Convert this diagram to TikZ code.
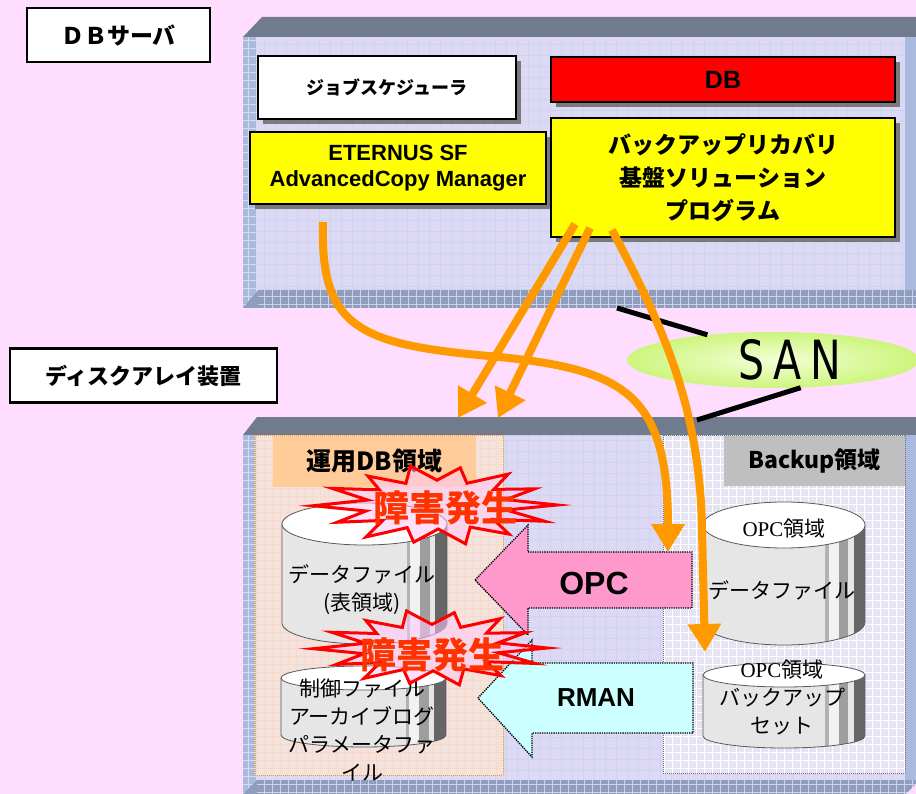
\documentclass[tikz,border=0pt]{standalone}
\usepackage{fontspec}
\setmainfont{Noto Sans CJK JP}
\newfontfamily\arialf{Liberation Sans}
\newfontfamily\timesf{Liberation Serif}
\newfontfamily\sanf{DejaVu Sans}
\usetikzlibrary{arrows.meta,shapes.geometric,shadows,positioning}
\definecolor{bgpink}{RGB}{255,221,255}
\definecolor{faceLav}{RGB}{221,217,245}
\definecolor{gridLav}{RGB}{204,212,240}
\definecolor{bevelTop}{RGB}{112,123,141}
\definecolor{bevelSide}{RGB}{170,186,222}
\definecolor{bevelBot}{RGB}{143,157,190}
\definecolor{acOrange}{RGB}{255,153,0}
\definecolor{boxYellow}{RGB}{255,255,0}
\definecolor{peach}{RGB}{255,204,153}
\definecolor{opArea}{RGB}{244,226,222}
\definecolor{opGrid}{RGB}{250,218,196}
\definecolor{bkArea}{RGB}{230,228,243}
\definecolor{opcPink}{RGB}{255,153,204}
\definecolor{rmanCyan}{RGB}{204,255,255}
\definecolor{alertRed}{RGB}{255,51,0}
\definecolor{sanIn}{RGB}{242,255,215}
\definecolor{sanOut}{RGB}{205,245,125}
\definecolor{diskGray}{RGB}{230,230,230}

% disk drum: left x, right x, top y, bottom y, y radius
\newcommand{\dbdisk}[5]{%
  \pgfmathsetmacro{\dkw}{#2-#1}
  \pgfmathsetmacro{\dkr}{\dkw/2}
  \pgfmathsetmacro{\dkc}{#1+\dkr}
  \begin{scope}
    \clip (#1,#3) -- (#1,#4) arc[start angle=180, end angle=360, x radius=\dkr pt, y radius=#5 pt] -- (#2,#3) -- cycle;
    \fill[diskGray] (#1,#3-1) rectangle (#2,#4+#5+1);
    \fill[black!30] ({#1+0.756*\dkw},#3) rectangle ({#1+0.776*\dkw},#4+#5+1);
    \fill[black!5] ({#1+0.776*\dkw},#3) rectangle ({#1+0.837*\dkw},#4+#5+1);
    \fill[black!38] ({#1+0.837*\dkw},#3) rectangle ({#1+0.898*\dkw},#4+#5+1);
    \fill[black!60] ({#1+0.929*\dkw},#3) rectangle (#2,#4+#5+1);
  \end{scope}
  \draw[diskline] (#1,#3) -- (#1,#4) arc[start angle=180, end angle=360, x radius=\dkr pt, y radius=#5 pt] -- (#2,#3);
  \draw[diskline, fill=white] (\dkc,#3) ellipse[x radius=\dkr pt, y radius=#5 pt];
}

% fault burst around a point
\newcommand{\burst}[4]{%
  \begin{scope}[shift={(#1,#2)}, x=#3pt, y=#4pt]
    \draw[burstline] (0:1.02) \foreach \a/\r in {13/0.6, 26/0.92, 39/0.62, 52/0.98, 65/0.6, 78/0.95,
      90/0.62, 103/1.0, 116/0.6, 129/0.93, 142/0.62, 155/0.98, 168/0.6, 181/1.05, 194/0.62,
      207/0.95, 220/0.6, 233/1.0, 246/0.62, 258/0.95, 271/0.6, 284/1.0, 297/0.62, 310/0.95,
      323/0.6, 336/1.0, 348/0.6} { -- (\a:\r) } -- cycle;
  \end{scope}
}

\begin{document}
\begin{tikzpicture}[x=1pt,y=-1pt,
  box/.style={draw=black, line width=2.4pt, inner sep=0pt, align=center},
  shadowbox/.style={box, drop shadow={shadow xshift=5pt, shadow yshift=-5pt, fill=black!52, opacity=1}},
  flow/.style={draw=acOrange, line width=8pt, -{Triangle[length=28pt,width=32pt]}},
  sanlink/.style={draw=black, line width=5pt},
  diskline/.style={draw=black!65, line width=0.8pt},
  disktext/.style={font=\fontsize{21pt}{28pt}\selectfont, align=center, inner sep=0pt},
  blockarrow/.style={draw=black, line width=1.3pt, densely dotted},
  burstline/.style={draw=red, line width=3pt, line join=miter, fill={rgb,255:red,255;green,200;blue,250}, fill opacity=0.55},
  alert/.style={font=\bfseries\fontsize{36pt}{40pt}\selectfont, text=alertRed, inner sep=0pt}]
\useasboundingbox (0,0) rectangle (916,794);
\fill[bgpink] (0,0) rectangle (916,794);
%
% server housing
\fill[faceLav] (257,37) rectangle (905,290);
\draw[gridLav, line width=0.6pt, step=11pt] (257,37) grid (905,290);
\fill[bevelTop] (243,37) -- (262,17) -- (916,17) -- (916,37) -- cycle;
\fill[bevelSide] (243,37) rectangle (257,308);
\draw[white!50!bevelSide, line width=0.5pt, step=8pt] (243,37) grid (257,308);
\fill[bevelSide] (905,37) rectangle (916,290);
\fill[bevelBot] (243,308) -- (258,290) -- (916,290) -- (916,308) -- cycle;
\draw[white!55!bevelBot, line width=0.5pt, step=8pt] (258,290) grid (916,308);
%
% disk array housing
\fill[faceLav] (257,435) rectangle (905,780);
\draw[gridLav, line width=0.6pt, step=11pt] (257,435) grid (905,780);
\fill[bevelTop] (243,435) -- (257,417) -- (916,417) -- (916,435) -- cycle;
\fill[bevelSide] (243,435) rectangle (257,794);
\draw[white!50!bevelSide, line width=0.5pt, step=8pt] (243,435) grid (257,794);
\fill[bevelSide] (905,435) rectangle (916,780);
\fill[bevelBot] (243,794) -- (257,780) -- (916,780) -- (916,794) -- cycle;
\draw[white!55!bevelBot, line width=0.5pt, step=8pt] (257,780) grid (916,794);
\fill[bgpink] (906,794) -- (916,784) -- (916,794) -- cycle;
%
% work area and backup area
\fill[opArea] (255,435) rectangle (503,775);
\draw[opGrid, line width=0.6pt, step=8pt] (255,435) grid (503,775);
\draw[acOrange, line width=1pt, densely dotted] (255,435) rectangle (503,775);
\fill[bkArea] (663,435) rectangle (905,773);
\draw[white, line width=0.6pt, step=8pt] (663,435) grid (905,773);
\draw[black!55, line width=1pt, densely dotted] (663,435) rectangle (905,773);
\node[fill=peach, minimum width=203pt, minimum height=51pt, inner sep=0pt,
  font=\bfseries\fontsize{25pt}{28pt}\selectfont] (oplabel) at (374.5,461.5) {運用DB領域};
\node[fill=black!25, minimum width=181pt, minimum height=50pt, inner sep=0pt,
  font=\bfseries\fontsize{23pt}{28pt}\selectfont] (bklabel) at (814.5,461) {Backup領域};
%
% titles
\node[box, fill=white, minimum width=183pt, minimum height=54pt,
  font=\bfseries\fontsize{23pt}{26pt}\selectfont] (srvlabel) at (118.5,35) {ＤＢサーバ};
\node[box, fill=white, minimum width=267pt, minimum height=54pt,
  font=\bfseries\fontsize{22pt}{24pt}\selectfont] (arylabel) at (143.5,375.5) {ディスクアレイ装置};
%
% server software
\node[shadowbox, fill=white, minimum width=258pt, minimum height=63pt,
  font=\bfseries\fontsize{18pt}{22pt}\selectfont] (jobs) at (387,87.5) {ジョブスケジューラ};
\node[shadowbox, fill=red, minimum width=344pt, minimum height=45pt,
  font=\arialf\bfseries\fontsize{25pt}{28pt}\selectfont] (db) at (723,79.5) {DB};
\node[shadowbox, fill=boxYellow, minimum width=296pt, minimum height=72pt,
  font=\arialf\bfseries\fontsize{22pt}{26pt}\selectfont] (acm) at (398,168) {ETERNUS SF\\ AdvancedCopy Manager};
\node[shadowbox, fill=boxYellow, minimum width=344pt, minimum height=119pt,
  font=\bfseries\fontsize{23pt}{33pt}\selectfont] (brp) at (723,177.5) {バックアップリカバリ\\基盤ソリューション\\プログラム};
%
% SAN
\coordinate (srvport) at (617,308);
\coordinate (aryport) at (697,420);
\node[ellipse, shading=radial, inner color=sanIn, outer color=sanOut,
  minimum width=292pt, minimum height=56pt] (san) at (773,360) {};
\draw[sanlink] (srvport) -- (san.159);
\draw[sanlink] (san.-45) -- (aryport);
\node[font=\sanf\fontsize{54pt}{56pt}\selectfont, inner sep=0pt] (santext) at (790,360)
  {\scalebox{0.76}[1]{S\hspace{12pt}A\hspace{12pt}N}};
%
% disks
\dbdisk{282}{447}{524}{623}{21}
\node[disktext] (dfile) at (362,590) {データファイル\\(表領域)};
\dbdisk{281}{446}{678}{735}{12}
\node[disktext] (ctlfile) at (362,730) {制御ファイル\\アーカイブログ\\パラメータファ\\イル};
\dbdisk{703}{865}{525}{622}{23}
\node[disktext] (opcarea) at (784,529) {{\timesf OPC}領域};
\node[disktext] (opcdata) at (782,590) {データファイル};
\dbdisk{703}{865}{675}{736}{12}
\node[disktext] (opcset) at (782,697) {{\timesf OPC}領域\\バックアップ\\セット};
%
% restore paths
\draw[blockarrow, fill=opcPink] (475,580) -- (528,525) -- (528,552) -- (692,552) -- (692,608)
  -- (528,608) -- (528,635) -- cycle;
\node[font=\arialf\bfseries\fontsize{32pt}{34pt}\selectfont] (opc) at (594,583) {OPC};
\draw[blockarrow, fill=rmanCyan] (478,698) -- (532,640) -- (532,663) -- (693,663) -- (693,733)
  -- (532,733) -- (532,757) -- cycle;
\node[font=\arialf\bfseries\fontsize{26pt}{30pt}\selectfont] (rman) at (596,698) {RMAN};
%
% copy flows
\coordinate (acmout) at (323,222);
\coordinate (brpoutA) at (575,224);
\coordinate (brpoutB) at (590,228);
\coordinate (brpoutC) at (612,230);
\coordinate (workA) at (458,418);
\coordinate (workB) at (498,418);
\coordinate (opcin) at (668,552);
\coordinate (setin) at (705,652);
\draw[flow] (acmout) .. controls (320,330) and (360,345) .. (500,357)
  .. controls (625,370) and (668,395) .. (opcin);
\draw[flow] (brpoutA) -- (workA);
\draw[flow] (brpoutB) -- (workB);
\draw[flow] (brpoutC) .. controls (665,330) and (700,410) .. (702,530) -- (setin);
%
% faults
\burst{437}{505}{118}{40}
\node[alert] (fault1) at (445,508) {障害発生};
\burst{432}{648}{113}{38}
\node[alert] (fault2) at (432,655) {障害発生};
\end{tikzpicture}
\end{document}
